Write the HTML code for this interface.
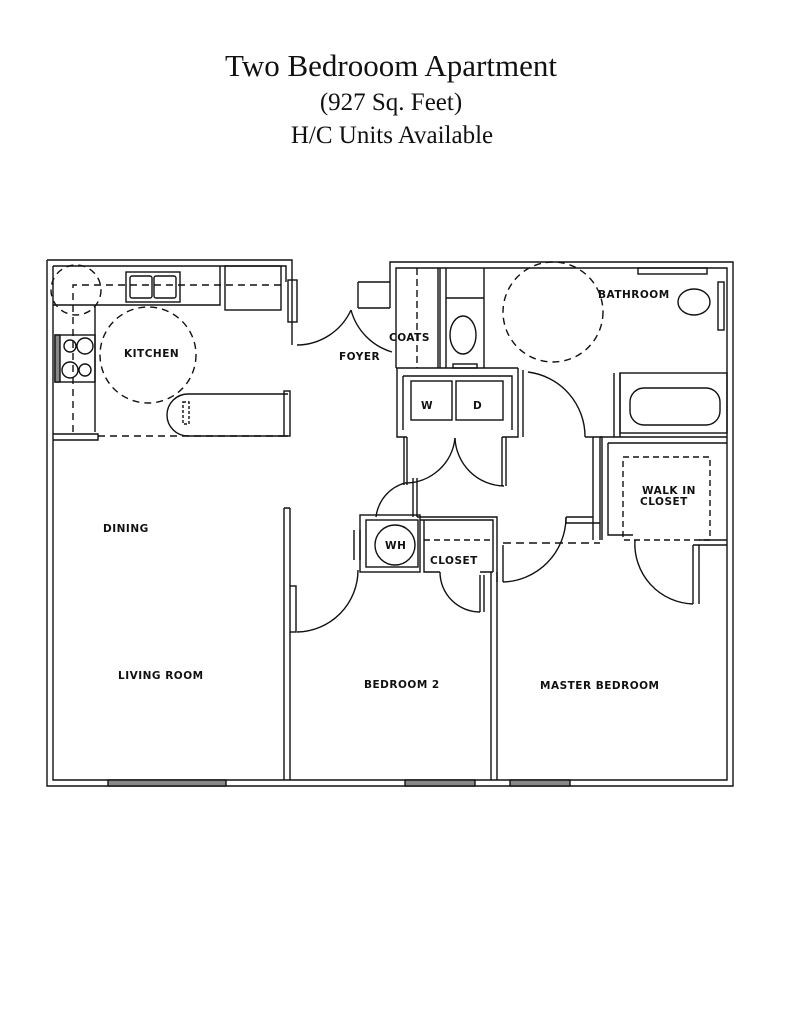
<!DOCTYPE html>
<html><head><meta charset="utf-8"><style>
html,body{margin:0;padding:0;background:#fff;}
svg{display:block;}
.t{font-family:"Liberation Serif",serif;fill:#111;text-anchor:middle;}
.l{font-family:"DejaVu Sans","Liberation Sans",sans-serif;font-size:10.5px;font-weight:bold;fill:#111;letter-spacing:0.5px;}
</style></head><body>
<svg width="790" height="1024" viewBox="0 0 790 1024" xmlns="http://www.w3.org/2000/svg">
<rect width="790" height="1024" fill="#fff"/>
<text class="t" x="391" y="76" font-size="31">Two Bedrooom Apartment</text>
<text class="t" x="391" y="110" font-size="25">(927 Sq. Feet)</text>
<text class="t" x="392" y="143" font-size="25">H/C Units Available</text>

<g fill="none" stroke="#111" stroke-width="1.4">
<path d="M47 260 H292 V345 M53 266 H286 V282"/>
<path d="M47 260 V786 H733 V262 H390 V308 M53 266 V780 H727 V268 H396 V308"/>
<rect x="108" y="780" width="118" height="6" fill="#888"/>
<rect x="405" y="780" width="70" height="6" fill="#888"/>
<rect x="510" y="780" width="60" height="6" fill="#888"/>
<path d="M358 282 H390 M358 308 H390 M358 282 V308"/>
<path d="M351 310 A60 60 0 0 0 392 352" />
<path d="M297 345 A60 60 0 0 0 351 310" />
<rect x="288" y="280" width="9" height="42"/>
<path d="M53 305 H95 V432 M95 305 H220 V266"/>
<rect x="225" y="266" width="56" height="44"/>
<rect x="126" y="272" width="54" height="30"/>
<rect x="130" y="276" width="22" height="22" rx="2"/>
<rect x="154" y="276" width="22" height="22" rx="2"/>
<rect x="55" y="335" width="40" height="47"/>
<rect x="55" y="335" width="5" height="47" fill="#888"/>
<circle cx="70" cy="346" r="6"/><circle cx="85" cy="346" r="8"/><circle cx="70" cy="370" r="8"/><circle cx="85" cy="370" r="6"/>
<path d="M53 434 H98 V440 H53"/>
<path d="M288 394 H188 A20 20 0 0 0 188 436 H288"/>
<rect x="284" y="391" width="6" height="45"/>
<rect x="183" y="402" width="6" height="22" stroke-dasharray="3 2"/>
<g stroke-dasharray="7 5">
<circle cx="148" cy="355" r="48"/>
<circle cx="76" cy="290" r="25"/>
<path d="M73 432 V285 H285"/>
<path d="M98 436 H284"/>
</g>
<path d="M284 508 V780 M290 508 V586 M284 508 H290 M290 632 V780"/>
<rect x="290" y="586" width="6" height="46"/>
<path d="M297 632 A62 62 0 0 0 358 570"/>
<path d="M396 308 V368 M438 268 V368 M440 268 V368 M446 268 V368 M396 368 H518"/>
<path d="M417 268 V368" stroke-dasharray="7 4"/>
<path d="M446 298 H484 M484 268 V368"/>
<ellipse cx="463" cy="335" rx="13" ry="19"/>
<rect x="453" y="364" width="24" height="4"/>
<path d="M397 368 V437 H407 M518 368 V437 H502 M403 376 H512 V430 M403 376 V430"/>
<rect x="411" y="381" width="41" height="39"/>
<rect x="456" y="381" width="47" height="39"/>
<path d="M404 437 V485 M407 437 V485 M502 437 V486 M506 437 V486"/>
<path d="M405 483 A50 50 0 0 0 455 438"/>
<path d="M504 486 A50 50 0 0 1 455 438"/>
<path d="M413 478 V517 M417 478 V517"/>
<path d="M523 370 V437 M528 372 A65 65 0 0 1 585 437 M585 437 H602"/>
<rect x="638" y="268" width="69" height="6"/>
<ellipse cx="694" cy="302" rx="16" ry="13"/>
<rect x="718" y="282" width="6" height="48"/>
<rect x="620" y="373" width="107" height="60"/>
<rect x="630" y="388" width="90" height="37" rx="14"/>
<circle cx="553" cy="312" r="50" stroke-dasharray="7 5"/>
<path d="M620 373 V437 M614 373 V437"/>
<path d="M600 437 H727 M602 437 V540 M608 443 V535 H633 M608 443 H727"/>
<rect x="623" y="457" width="87" height="83" stroke-dasharray="6 4"/>
<path d="M699 540 H727 M693 545 V604 M699 545 V604 M693 545 H727"/>
<path d="M635 540 A60 60 0 0 0 693 604"/>
<path d="M593 437 V540 M600 437 V540 M566 517 H593 M566 523 H600 M566 517 V523"/>
<path d="M503 543 H600" stroke-dasharray="8 5"/>
<path d="M503 582 A65 65 0 0 0 566 518"/>
<rect x="360" y="515" width="60" height="57"/>
<rect x="366" y="520" width="52" height="47"/>
<circle cx="395" cy="545" r="20"/>
<path d="M354 530 V560 M360 530 V560"/>
<path d="M376 517 A40 40 0 0 1 405 483"/>
<path d="M417 517 H497 V582 M420 520 H493 V572 M424 520 V572 H440 M480 572 H493"/>
<path d="M424 540 H492" stroke-dasharray="6 4"/>
<path d="M440 572 A40 40 0 0 0 480 612 M480 575 V612 M484 575 V612"/>
<path d="M491 572 V780 M497 572 V780 M503 545 V582"/>
</g>

<text class="l" x="124" y="357">KITCHEN</text>
<text class="l" x="339" y="360">FOYER</text>
<text class="l" x="389" y="341">COATS</text>
<text class="l" x="598" y="298">BATHROOM</text>
<text class="l" x="421" y="409">W</text>
<text class="l" x="473" y="409">D</text>
<text class="l" x="642" y="494">WALK IN</text>
<text class="l" x="640" y="505">CLOSET</text>
<text class="l" x="385" y="549">WH</text>
<text class="l" x="430" y="564">CLOSET</text>
<text class="l" x="103" y="532">DINING</text>
<text class="l" x="118" y="679">LIVING ROOM</text>
<text class="l" x="364" y="688">BEDROOM 2</text>
<text class="l" x="540" y="689">MASTER BEDROOM</text>
</svg>
</body></html>
